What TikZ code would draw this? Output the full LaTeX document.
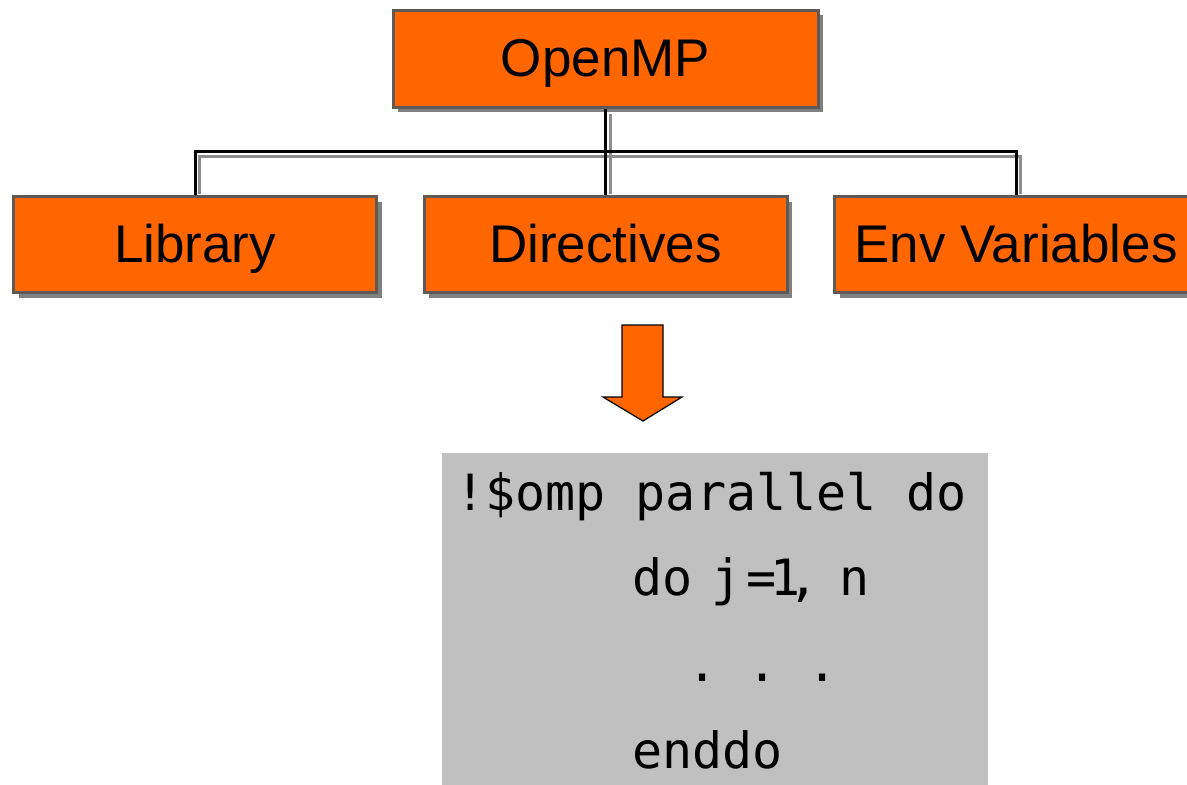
\documentclass[tikz,border=0pt]{standalone}
\usepackage{fontspec}
\setmainfont{Liberation Sans}
\newfontfamily\codefont{DejaVu Sans Mono}
\usetikzlibrary{shadows}
\definecolor{omporange}{RGB}{255,102,0}
\definecolor{boxborder}{RGB}{96,90,86}
\definecolor{boxshadow}{RGB}{128,128,128}
\definecolor{lineshadow}{RGB}{140,140,140}
\definecolor{codebg}{RGB}{192,192,192}
\tikzset{
  ompbox/.style={draw=boxborder, line width=3pt, fill=omporange,
    minimum width=363pt, minimum height=96pt, inner sep=0pt,
    font=\fontsize{53}{60}\selectfont, text height=40pt, text depth=5pt,
    drop shadow={shadow xshift=5pt, shadow yshift=-5pt, fill=boxshadow, opacity=1}},
  conn/.style={line width=3pt, draw=black},
  connshadow/.style={line width=3pt, draw=lineshadow, shorten <=6.5pt, shorten >=6.5pt},
  sh/.style={shift={(4.6,5)}},
  codeline/.style={anchor=base west, inner sep=0pt, font=\codefont\fontsize{50}{60}\selectfont\frenchspacing},
  bigarrow/.style={fill=omporange, draw=black, line width=1.2pt, line join=miter},
}
\begin{document}
\begin{tikzpicture}[x=1pt,y=-1pt]
\useasboundingbox (0,0) rectangle (1187,785);
\clip (0,0) rectangle (1187,785);
\fill[white] (0,0) rectangle (1187,785);

\node[ompbox, minimum width=425pt, minimum height=97pt] (omp) at (605.5,58.5) {OpenMP};
\node[ompbox] (lib) at (195,244.5) {Library};
\node[ompbox] (dir) at (605.5,244.5) {Directives};
\node[ompbox] (env) at (1016,244.5) {Env Variables};

\draw[connshadow, shorten <=0pt] ([sh]omp.south) -- ([sh]dir.north);
\draw[connshadow] ([sh]lib.north) -- ++(0,-44) -| ([sh]env.north);
\draw[conn] (omp.south) -- (dir.north);
\draw[conn] (lib.north) -- ++(0,-44) -| (env.north);

\draw[bigarrow] (622,325) -- (663,325) -- (663,397) -- (682,397) -- (643,421)
  -- (603,397) -- (622,397) -- cycle;

\fill[codebg] (442,453) rectangle (988,790);
\node[codeline] (c1) at (455,510) {!\$omp parallel do};
\node[codeline] (c2) at (632,595) {do \kern-11pt j\kern5pt =\kern-6pt 1\kern-12pt , \kern-10pt n};
\node[codeline] (c3) at (687,681) {. . .};
\node[codeline] (c4) at (632,768) {enddo};
\end{tikzpicture}
\end{document}
